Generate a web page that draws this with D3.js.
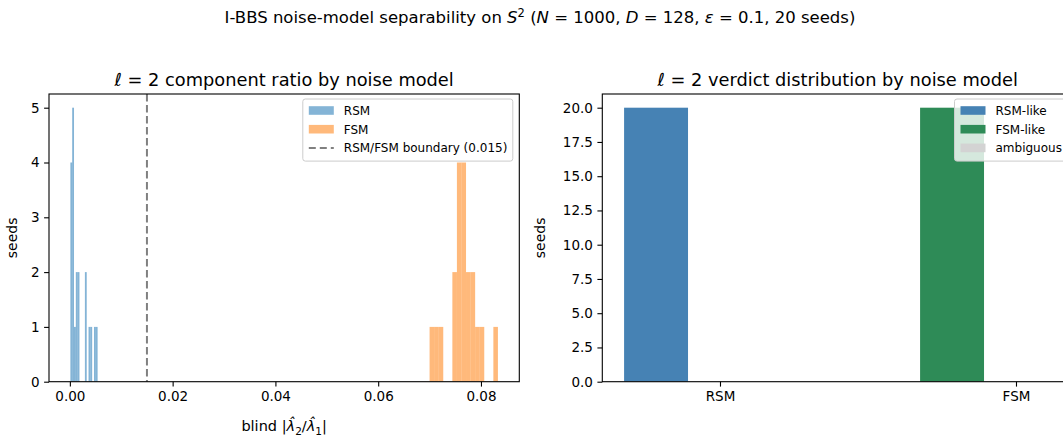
<!DOCTYPE html>
<html>
<head>
<meta charset="utf-8">
<script src="https://cdn.jsdelivr.net/npm/d3@7"></script>
<style>
  body { margin: 0; background: #fff; }
  svg { display: block; font-family: "DejaVu Sans", sans-serif; }
</style>
</head>
<body>
<div id="chart"></div>
<script>
// blind l=2 component ratio for every seed, per noise model
const rsmSeeds = [
  0.0001, 0.0002, 0.0003, 0.0004,
  0.0005, 0.00058, 0.00063, 0.00069, 0.00075,
  0.00098,
  0.00125, 0.00141,
  0.0016, 0.00178,
  0.00302, 0.00315,
  0.00381, 0.00418,
  0.00487, 0.0054
];
const fsmSeeds = [
  0.07, 0.0713, 0.0722,
  0.0747, 0.0751,
  0.0755, 0.0758, 0.076, 0.0761,
  0.0763, 0.0766, 0.0768, 0.077,
  0.0773, 0.0777,
  0.0782, 0.0786,
  0.0792, 0.0801,
  0.0833
];
const boundary = 0.015;
const binCount = 15;
const ratioTicks = [0, 0.02, 0.04, 0.06, 0.08];
const seedTicks = [0, 1, 2, 3, 4, 5];

// verdict counts per noise model
const noiseModels = ["RSM", "FSM"];
const verdicts = ["RSM-like", "FSM-like", "ambiguous"];
const rsmLikeCounts = [20, 0];
const fsmLikeCounts = [0, 20];
const ambiguousCounts = [0, 0];
const verdictTicks = [0, 2.5, 5, 7.5, 10, 12.5, 15, 17.5, 20];

const W = 1063, H = 436;
const left = { x0: 49, x1: 519.3, y0: 94, y1: 381.7 };
const right = { x0: 602.3, x1: 1073, y0: 94, y1: 381.7 };
const tickFont = 13.5, legendFont = 12, titleFont = 17.8;

const svg = d3.select("#chart").append("svg")
  .attr("width", W).attr("height", H);

const defs = svg.append("defs");
defs.append("clipPath").attr("id", "clipL").append("rect")
  .attr("x", left.x0).attr("y", left.y0)
  .attr("width", left.x1 - left.x0).attr("height", left.y1 - left.y0);
defs.append("clipPath").attr("id", "clipR").append("rect")
  .attr("x", right.x0).attr("y", right.y0)
  .attr("width", right.x1 - right.x0).attr("height", right.y1 - right.y0);

// suptitle
const sup = svg.append("text")
  .attr("x", 540).attr("y", 23)
  .attr("text-anchor", "middle")
  .style("font-size", "16.5px").attr("fill", "#000");
sup.append("tspan").text("I-BBS noise-model separability on ");
sup.append("tspan").attr("font-style", "italic").text("S");
sup.append("tspan").attr("dy", -6).style("font-size", "11.5px").text("2");
sup.append("tspan").attr("dy", 6).text(" (");
sup.append("tspan").attr("font-style", "italic").text("N");
sup.append("tspan").text(" = 1000, ");
sup.append("tspan").attr("font-style", "italic").text("D");
sup.append("tspan").text(" = 128, ");
sup.append("tspan").attr("font-style", "italic").text("ε");
sup.append("tspan").text(" = 0.1, 20 seeds)");

function drawTitle(box, rest) {
  const t = svg.append("text")
    .attr("x", (box.x0 + box.x1) / 2).attr("y", 85.5)
    .attr("text-anchor", "middle")
    .style("font-size", titleFont + "px").attr("fill", "#000");
  t.append("tspan").attr("font-style", "italic").text("ℓ");
  t.append("tspan").text(" = 2 " + rest);
}

function drawFrame(box) {
  svg.append("rect")
    .attr("x", box.x0).attr("y", box.y0)
    .attr("width", box.x1 - box.x0).attr("height", box.y1 - box.y0)
    .attr("fill", "none").attr("stroke", "#000").attr("stroke-width", 1.1);
}

function drawAxes(box, x, y, xTicks, xFmt, yTicks, yFmt) {
  const gx = svg.append("g")
    .attr("transform", `translate(0,${box.y1})`)
    .call(d3.axisBottom(x).tickValues(xTicks).tickFormat(xFmt)
      .tickSize(4.9).tickPadding(4.5));
  const gy = svg.append("g")
    .attr("transform", `translate(${box.x0},0)`)
    .call(d3.axisLeft(y).tickValues(yTicks).tickFormat(yFmt)
      .tickSize(4.9).tickPadding(4.5));
  [gx, gy].forEach(g => {
    g.select(".domain").remove();
    g.selectAll("line").attr("stroke", "#000").attr("stroke-width", 1.1);
    g.selectAll("text").attr("fill", "#000")
      .style("font-size", tickFont + "px")
      .style("font-family", "DejaVu Sans, sans-serif");
  });
}

function drawYLabel(xPos, text) {
  svg.append("text")
    .attr("transform", `translate(${xPos},${(left.y0 + left.y1) / 2}) rotate(-90)`)
    .attr("text-anchor", "middle")
    .style("font-size", "14px").attr("fill", "#000")
    .text(text);
}

function drawLegend(boxRight, top, width, items) {
  const rowH = 18.7;
  const g = svg.append("g");
  g.append("rect")
    .attr("x", boxRight - width).attr("y", top)
    .attr("width", width).attr("height", rowH * items.length + 6)
    .attr("rx", 2.5)
    .attr("fill", "#fff").attr("fill-opacity", 0.8)
    .attr("stroke", "#cccccc").attr("stroke-width", 1);
  const hx = boxRight - width + 6;
  items.forEach((it, i) => {
    const cy = top + 11.5 + i * rowH;
    if (it.dashed) {
      g.append("line")
        .attr("x1", hx).attr("x2", hx + 25)
        .attr("y1", cy).attr("y2", cy)
        .attr("stroke", it.color).attr("stroke-width", 2)
        .attr("stroke-dasharray", "7,4");
    } else {
      g.append("rect")
        .attr("x", hx).attr("y", cy - 4.3)
        .attr("width", 25).attr("height", 8.6)
        .attr("fill", it.color).attr("fill-opacity", it.opacity || 1);
    }
    g.append("text")
      .attr("x", hx + 35).attr("y", cy).attr("dy", "0.36em")
      .style("font-size", legendFont + "px").attr("fill", "#000")
      .text(it.label);
  });
}

/////////////////////////////////////  HISTOGRAM   //////////////////////////////////////////////

const allSeeds = rsmSeeds.concat(fsmSeeds);
const [dMin, dMax] = d3.extent(allSeeds);
const pad = (dMax - dMin) * 0.05;
const xL = d3.scaleLinear().domain([dMin - pad, dMax + pad]).range([left.x0, left.x1]);
const yL = d3.scaleLinear().domain([0, 5.25]).range([left.y1, left.y0]);

// matplotlib-like bins: binCount equal bins between each series' min and max
function binSeeds(values) {
  const [lo, hi] = d3.extent(values);
  const step = (hi - lo) / binCount;
  const thresholds = d3.range(1, binCount).map(i => lo + i * step);
  return d3.bin().domain([lo, hi]).thresholds(thresholds)(values);
}

const histLayer = svg.append("g").attr("clip-path", "url(#clipL)");
[[rsmSeeds, "#1f77b4"], [fsmSeeds, "#ff7f0e"]].forEach(([vals, color]) => {
  histLayer.selectAll(null)
    .data(binSeeds(vals))
    .enter()
    .append("rect")
    .attr("x", d => xL(d.x0))
    .attr("width", d => xL(d.x1) - xL(d.x0))
    .attr("y", d => yL(d.length))
    .attr("height", d => yL(0) - yL(d.length))
    .attr("fill", color)
    .attr("fill-opacity", 0.55);
});

histLayer.append("line")
  .attr("x1", xL(boundary)).attr("x2", xL(boundary))
  .attr("y1", left.y0).attr("y2", left.y1)
  .attr("stroke", "#808080").attr("stroke-width", 2)
  .attr("stroke-dasharray", "7.5,3.5");

drawFrame(left);
drawAxes(left, xL, yL, ratioTicks, d3.format(".2f"), seedTicks, d3.format("d"));
drawTitle(left, "component ratio by noise model");
drawYLabel(17, "seeds");

// x label: blind |λ̂2/λ̂1|
const xlab = svg.append("text")
  .attr("x", (left.x0 + left.x1) / 2).attr("y", 431)
  .attr("text-anchor", "middle")
  .style("font-size", "14.5px").attr("fill", "#000");
xlab.append("tspan").text("blind |");
xlab.append("tspan").attr("font-style", "italic").text("λ\u0302");
xlab.append("tspan").attr("dy", 3.5).style("font-size", "10.5px").text("2");
xlab.append("tspan").attr("dy", -3.5).text("/");
xlab.append("tspan").attr("font-style", "italic").text("λ\u0302");
xlab.append("tspan").attr("dy", 3.5).style("font-size", "10.5px").text("1");
xlab.append("tspan").attr("dy", -3.5).text("|");

drawLegend(left.x1 - 6.5, 99, 210, [
  { label: "RSM", color: "#1f77b4", opacity: 0.55 },
  { label: "FSM", color: "#ff7f0e", opacity: 0.55 },
  { label: "RSM/FSM boundary (0.015)", color: "#808080", dashed: true }
]);

/////////////////////////////////////  VERDICTS   //////////////////////////////////////////////

// verdict bars sit one bar width left of each model tick, ambiguous sits on the tick
const barWidth = 0.216;
const xR = d3.scaleLinear().domain([-0.3976, 1.1926]).range([right.x0, right.x1]);
const yR = d3.scaleLinear().domain([0, 21]).range([right.y1, right.y0]);
const verdictColors = d3.scaleOrdinal().domain(verdicts)
  .range(["steelblue", "seagreen", "lightgray"]);
const verdictOffset = { "RSM-like": -barWidth, "FSM-like": -barWidth, "ambiguous": 0 };

// stacked table built from the count arrays
const verdictTable = noiseModels.map((m, i) => ({
  model: i,
  "RSM-like": rsmLikeCounts[i],
  "FSM-like": fsmLikeCounts[i],
  "ambiguous": ambiguousCounts[i]
}));
const stacked = d3.stack().keys(verdicts)(verdictTable);

const barLayer = svg.append("g").attr("clip-path", "url(#clipR)");
stacked.forEach(layer => {
  barLayer.selectAll(null)
    .data(layer)
    .enter()
    .append("rect")
    .attr("x", d => xR(d.data.model + verdictOffset[layer.key] - barWidth / 2))
    .attr("width", xR(barWidth) - xR(0))
    .attr("y", d => yR(d[1]))
    .attr("height", d => yR(d[0]) - yR(d[1]))
    .attr("fill", verdictColors(layer.key));
});

drawFrame(right);
drawAxes(right, xR, yR, [0, 1], i => noiseModels[i], verdictTicks, d3.format(".1f"));
drawTitle(right, "verdict distribution by noise model");
drawYLabel(545, "seeds");

drawLegend(right.x1 - 6.5, 99, 112, verdicts.map(v => ({ label: v, color: verdictColors(v) })));
</script>
</body>
</html>
